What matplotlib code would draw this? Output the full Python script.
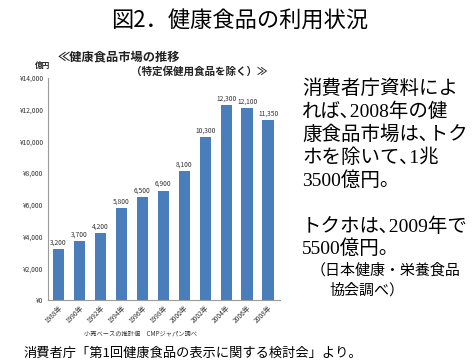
import matplotlib.pyplot as plt
import numpy as np

plt.rcParams['font.family'] = ['Noto Sans CJK JP', 'DejaVu Sans']

# data
years = ['1988年', '1990年', '1992年', '1994年', '1996年', '1998年',
         '2000年', '2002年', '2004年', '2006年', '2008年']
sales = [3200, 3700, 4200, 5800, 6500, 6900, 8100, 10300, 12300, 12100, 11350]
yticks = [0, 2000, 4000, 6000, 8000, 10000, 12000, 14000]

right_lines = ['消費者庁資料によ', 'れば､2008年の健', '康食品市場は､トク',
               'ホを除いて､1兆', '3500億円。']
right_lines2 = ['トクホは､2009年で', '5500億円。']

fig = plt.figure(figsize=(4.74, 3.64), dpi=100)
ax = fig.add_axes([0.101, 0.176, 0.489, 0.61])

x = np.arange(len(years))
bars = ax.bar(x, sales, width=0.54, color='#4a7ebb')
for xi, v in zip(x, sales):
    ax.text(xi, v + 150, f'{v:,}', ha='center', va='bottom', fontsize=4.8,
            color='#333333', clip_on=True)

ax.set_xlim(-0.5, 10.55)
ax.set_ylim(0, 14000)
ax.set_yticks(yticks)
ax.set_yticklabels([f'¥{t:,}' for t in yticks], fontsize=4.8, color='#333333')
ax.set_xticks(x)
ax.set_xticklabels(years, rotation=45, ha='right', rotation_mode='anchor',
                   fontsize=4.8, color='#333333')
ax.tick_params(length=0, pad=3)
for s in ['top', 'right']:
    ax.spines[s].set_visible(False)
for s in ['left', 'bottom']:
    ax.spines[s].set_color('#9a9a9a')
    ax.spines[s].set_linewidth(0.8)

# chart annotations
fig.text(58 / 474, 1 - 57 / 364, '≪健康食品市場の推移', fontsize=8.8,
         fontweight='bold', va='center', color='#222222')
fig.text(131 / 474, 1 - 72 / 364, '（特定保健用食品を除く）≫', fontsize=7.6,
         fontweight='bold', va='center', color='#222222')
fig.text(35 / 474, 1 - 65 / 364, '億円', fontsize=5.5, fontweight='bold',
         va='center', color='#222222')
fig.text(140 / 474, 1 - 333 / 364, '小売ベースの推計値　CMPジャパン調べ',
         fontsize=4.5, ha='center', va='center', color='#333333')

# main title
fig.text(240 / 474, 1 - 21 / 364, '図2．健康食品の利用状況', fontsize=16,
         ha='center', va='center')

# right side text
serif_cjk = ['Liberation Serif', 'Noto Sans CJK JP']
for i, line in enumerate(right_lines):
    fig.text(302 / 474, 1 - (89 + 23 * i) / 364, line, fontsize=14,
             family=serif_cjk, va='center')
for i, line in enumerate(right_lines2):
    fig.text(302 / 474, 1 - (227 + 22 * i) / 364, line, fontsize=14,
             family=serif_cjk, va='center')
fig.text(311 / 474, 1 - 270 / 364, '（日本健康・栄養食品', fontsize=10.8,
         va='center')
fig.text(329 / 474, 1 - 290 / 364, '協会調べ）', fontsize=10.8, va='center')

# source
fig.text(23 / 474, 1 - 353 / 364, '消費者庁「第1回健康食品の表示に関する検討会」より。',
         fontsize=9.5, va='center')

fig.savefig('out.png', dpi=100)
